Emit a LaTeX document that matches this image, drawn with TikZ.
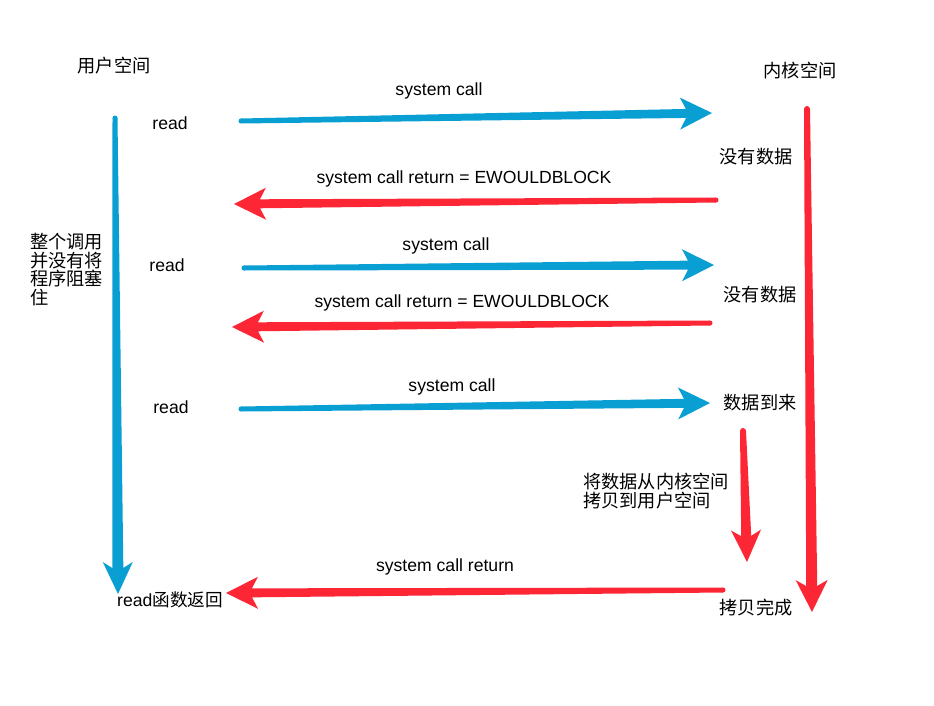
\documentclass[tikz,border=0pt]{standalone}
\usepackage{fontspec}
\setmainfont{Liberation Sans}
\newfontfamily\cjk{Noto Sans CJK SC}
\usetikzlibrary{calc}
\definecolor{callblue}{HTML}{0A9FD3}
\definecolor{retred}{HTML}{FC2635}
\tikzset{
  lbl/.style={font=\fontsize{17.6}{18.5}\selectfont, inner sep=0pt},
  cjklbl/.style={font=\fontsize{18.2}{18.6}\selectfont\cjk, inner sep=0pt}
}
% brush arrow: colour, tail, tip, tail half width, shaft half width, head half width
\newcommand{\brusharrow}[6]{%
  \coordinate (hb) at ($(#3)!26pt!(#2)$);
  \coordinate (hn) at ($(#3)!32pt!(#2)$);
  \fill[#1] ($(#2)!#4!90:(#3)$) -- ($(hb)!#5!90:(#3)$) -- ($(hn)!#6!90:(#3)$)
    -- (#3) -- ($(hn)!#6!-90:(#3)$) -- ($(hb)!#5!-90:(#3)$)
    -- ($(#2)!#4!-90:(#3)$) -- cycle;
  \fill[#1] (#2) circle (#4);
}

\begin{document}
\begin{tikzpicture}[x=1pt, y=-1pt]
  \useasboundingbox (0,0) rectangle (934,706);

  % headings
  \node[cjklbl] (user) at (114,66) {用户空间};
  \node[cjklbl] (kern) at (800,71) {内核空间};

  % user side blocking note
  \node[cjklbl, anchor=north west, align=left] (note) at (30,233)
    {整个调用\\并没有将\\程序阻塞\\住};

  % read calls
  \node[lbl] (rd1) at (170,123) {read};
  \node[lbl] (rd2) at (167,265) {read};
  \node[lbl] (rd3) at (171,407) {read};
  \node[lbl] (rdret) at (170,600) {read{\cjk 函数返回}};

  % kernel states
  \node[cjklbl] (nd1) at (756,157) {没有数据};
  \node[cjklbl] (nd2) at (760,295) {没有数据};
  \node[cjklbl] (arr) at (760,403) {数据到来};
  \node[cjklbl, anchor=north west, align=left] (copy) at (583,473)
    {将数据从内核空间\\拷贝到用户空间};
  \node[cjklbl] (done) at (756,608) {拷贝完成};

  % arrow labels
  \node[lbl] (sc1) at (439,91) {system call};
  \node[lbl] (sr1) at (464,179) {system call return = EWOULDBLOCK};
  \node[lbl] (sc2) at (446,246) {system call};
  \node[lbl] (sr2) at (462,303) {system call return = EWOULDBLOCK};
  \node[lbl] (sc3) at (452,387) {system call};
  \node[lbl] (sr3) at (445,567) {system call return};

  % arrow end points
  \coordinate (ut) at (115,118);  \coordinate (uh) at (118,594);
  \coordinate (kt) at (807,109);  \coordinate (kh) at (812,612);
  \coordinate (ct) at (743,431);  \coordinate (ch) at (747,562);
  \coordinate (c1t) at (241,121); \coordinate (c1h) at (712,113);
  \coordinate (r1t) at (716,200); \coordinate (r1h) at (234,204);
  \coordinate (c2t) at (244,268); \coordinate (c2h) at (714,265);
  \coordinate (r2t) at (710,323); \coordinate (r2h) at (232,327);
  \coordinate (c3t) at (241,409); \coordinate (c3h) at (710,403);
  \coordinate (r3t) at (723,590); \coordinate (r3h) at (226,593);

  % timelines
  \brusharrow{callblue}{ut}{uh}{2.5pt}{5.5pt}{15pt}
  \brusharrow{retred}{kt}{kh}{3pt}{5.5pt}{16pt}
  \brusharrow{retred}{ct}{ch}{3pt}{5pt}{15pt}

  % system calls and returns
  \foreach \a in {c1,c2,c3} {
    \brusharrow{callblue}{\a t}{\a h}{2.5pt}{4.5pt}{16pt}
  }
  \foreach \a in {r1,r2,r3} {
    \brusharrow{retred}{\a t}{\a h}{2.5pt}{4.5pt}{16pt}
  }
\end{tikzpicture}
\end{document}
